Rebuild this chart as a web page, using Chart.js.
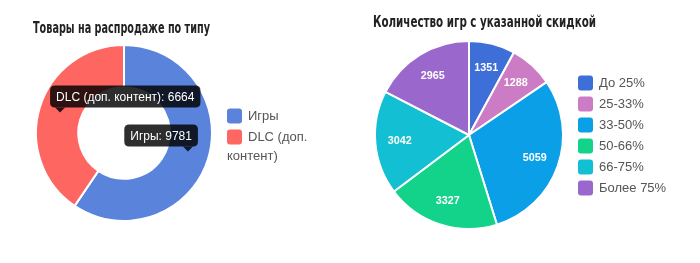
<!DOCTYPE html>
<html>
<head>
<meta charset="utf-8">
<script src="https://cdn.jsdelivr.net/npm/chart.js@4.4.1/dist/chart.umd.min.js"></script>
<style>
  html, body { margin: 0; padding: 0; background: #fff; }
  #wrap { position: relative; width: 700px; height: 263px; overflow: hidden; }
  canvas { position: absolute; top: 0; }
  #typeChart { left: 0; }
  #discountChart { left: 350px; }
</style>
</head>
<body>
<div id="wrap">
  <canvas id="typeChart" width="350" height="263"></canvas>
  <canvas id="discountChart" width="350" height="263"></canvas>
</div>
<script>
// --- данные ---
const typeLabels = ['Игры', 'DLC (доп. контент)'];
const typeCounts = [9781, 6664];
const typeColors = ['#5a83db', '#fe6661'];

const discountLabels = ['До 25%', '25-33%', '33-50%', '50-66%', '66-75%', 'Более 75%'];
const discountCounts = [1351, 1288, 5059, 3327, 3042, 2965];
const discountColors = ['#3e6fd8', '#cc7bc5', '#0b9fe8', '#13d38b', '#13bfd2', '#9a68cc'];

const TITLE_FAMILY = "'DejaVu Sans Condensed', 'Liberation Sans', sans-serif";
const TEXT_FAMILY = "'Liberation Sans', Arial, sans-serif";

function roundRect(ctx, x, y, w, h, r) {
    ctx.beginPath();
    ctx.moveTo(x + r, y);
    ctx.lineTo(x + w - r, y);
    ctx.quadraticCurveTo(x + w, y, x + w, y + r);
    ctx.lineTo(x + w, y + h - r);
    ctx.quadraticCurveTo(x + w, y + h, x + w - r, y + h);
    ctx.lineTo(x + r, y + h);
    ctx.quadraticCurveTo(x, y + h, x, y + h - r);
    ctx.lineTo(x, y + r);
    ctx.quadraticCurveTo(x, y, x + r, y);
    ctx.closePath();
}

// заголовок (узкий жирный шрифт, ширина задаётся явно)
const plainTitle = {
    id: 'plainTitle',
    afterDraw(chart, args, opts) {
        const ctx = chart.ctx;
        ctx.save();
        ctx.font = `bold ${opts.size}px ${TITLE_FAMILY}`;
        ctx.fillStyle = '#222';
        ctx.textBaseline = 'middle';
        ctx.fillText(opts.text, chart.chartArea.left + opts.dx, opts.y, opts.maxWidth);
        ctx.restore();
    }
};

// легенда справа от круга, с переносом длинных подписей под квадратик
const sideLegend = {
    id: 'sideLegend',
    afterDraw(chart, args, opts) {
        const ctx = chart.ctx;
        const ds = chart.data.datasets[0];
        const box = opts.box || 15;
        const textX = opts.x + box + 6;
        const maxW = chart.width - textX - 4;
        let y = opts.top;
        ctx.save();
        ctx.font = `13px ${TEXT_FAMILY}`;
        ctx.textBaseline = 'middle';
        chart.data.labels.forEach((label, i) => {
            ctx.fillStyle = ds.backgroundColor[i];
            roundRect(ctx, opts.x, y - box / 2, box, box, 3);
            ctx.fill();
            ctx.fillStyle = '#555';
            // перенос по словам
            const words = label.split(' ');
            const lines = [];
            let cur = '';
            words.forEach(w => {
                const test = cur ? cur + ' ' + w : w;
                if (cur && ctx.measureText(test).width > maxW) { lines.push(cur); cur = w; }
                else cur = test;
            });
            lines.push(cur);
            lines.forEach((ln, k) => {
                ctx.fillText(ln, k === 0 ? textX : opts.x, y + k * opts.wrapGap);
            });
            y += opts.rowGap + (lines.length - 1) * opts.wrapGap;
        });
        ctx.restore();
    }
};

// подсказки, показанные сразу для всех сегментов
const showAllTips = {
    id: 'showAllTips',
    afterDraw(chart, args, opts) {
        if (!opts.enabled) return;
        const ctx = chart.ctx;
        const meta = chart.getDatasetMeta(0);
        const cx = (chart.chartArea.left + chart.chartArea.right) / 2;
        ctx.save();
        ctx.font = `12px ${TEXT_FAMILY}`;
        ctx.textBaseline = 'middle';
        meta.data.forEach((arc, i) => {
            const pos = arc.tooltipPosition();
            const text = chart.data.labels[i] + ': ' + chart.data.datasets[0].data[i];
            const w = ctx.measureText(text).width + 12;
            const h = 22, r = 5, caret = 5;
            const bottom = pos.y - caret - 1;
            const left = pos.x < cx ? pos.x - r - caret : pos.x + r + caret - w;
            ctx.fillStyle = 'rgba(0,0,0,0.82)';
            roundRect(ctx, left, bottom - h, w, h, r);
            ctx.fill();
            ctx.beginPath();
            ctx.moveTo(pos.x - caret, bottom);
            ctx.lineTo(pos.x, bottom + caret);
            ctx.lineTo(pos.x + caret, bottom);
            ctx.closePath();
            ctx.fill();
            ctx.fillStyle = '#fff';
            ctx.fillText(text, left + 6, bottom - h / 2 + 1);
        });
        ctx.restore();
    }
};

// значения внутри секторов
const sliceValues = {
    id: 'sliceValues',
    afterDatasetsDraw(chart, args, opts) {
        if (!opts.enabled) return;
        const ctx = chart.ctx;
        const meta = chart.getDatasetMeta(0);
        ctx.save();
        ctx.font = `bold 11px ${TEXT_FAMILY}`;
        ctx.fillStyle = '#fff';
        ctx.textAlign = 'center';
        ctx.textBaseline = 'middle';
        meta.data.forEach((arc, i) => {
            const p = arc.getProps(['x', 'y', 'startAngle', 'endAngle', 'outerRadius']);
            const mid = (p.startAngle + p.endAngle) / 2;
            const rr = p.outerRadius * opts.radius;
            ctx.fillText(String(chart.data.datasets[0].data[i]), p.x + Math.cos(mid) * rr, p.y + Math.sin(mid) * rr, 24);
        });
        ctx.restore();
    }
};

new Chart(document.getElementById('typeChart'), {
    type: 'doughnut',
    data: {
        labels: typeLabels,
        datasets: [{
            data: typeCounts,
            backgroundColor: typeColors,
            borderColor: '#fff',
            borderWidth: 2
        }]
    },
    options: {
        responsive: false,
        animation: false,
        cutout: '52%',
        layout: { padding: { left: 35, right: 137, top: 44, bottom: 41 } },
        plugins: {
            legend: { display: false },
            tooltip: { enabled: false },
            plainTitle: { text: 'Товары на распродаже по типу', size: 15, y: 29, dx: -2, maxWidth: 177 },
            sideLegend: { x: 227, top: 116, rowGap: 21, wrapGap: 19 },
            showAllTips: { enabled: true },
            sliceValues: { enabled: false }
        }
    },
    plugins: [plainTitle, sideLegend, showAllTips, sliceValues]
});

new Chart(document.getElementById('discountChart'), {
    type: 'pie',
    data: {
        labels: discountLabels,
        datasets: [{
            data: discountCounts,
            backgroundColor: discountColors,
            borderColor: '#fff',
            borderWidth: 2
        }]
    },
    options: {
        responsive: false,
        animation: false,
        layout: { padding: { left: 24, right: 136, top: 40, bottom: 33 } },
        plugins: {
            legend: { display: false },
            tooltip: { enabled: false },
            plainTitle: { text: 'Количество игр с указанной скидкой', size: 15, y: 23, dx: -1, maxWidth: 223 },
            sideLegend: { x: 228, top: 83, rowGap: 21, wrapGap: 19 },
            showAllTips: { enabled: false },
            sliceValues: { enabled: true, radius: 0.74 }
        }
    },
    plugins: [plainTitle, sideLegend, showAllTips, sliceValues]
});
</script>
</body>
</html>
